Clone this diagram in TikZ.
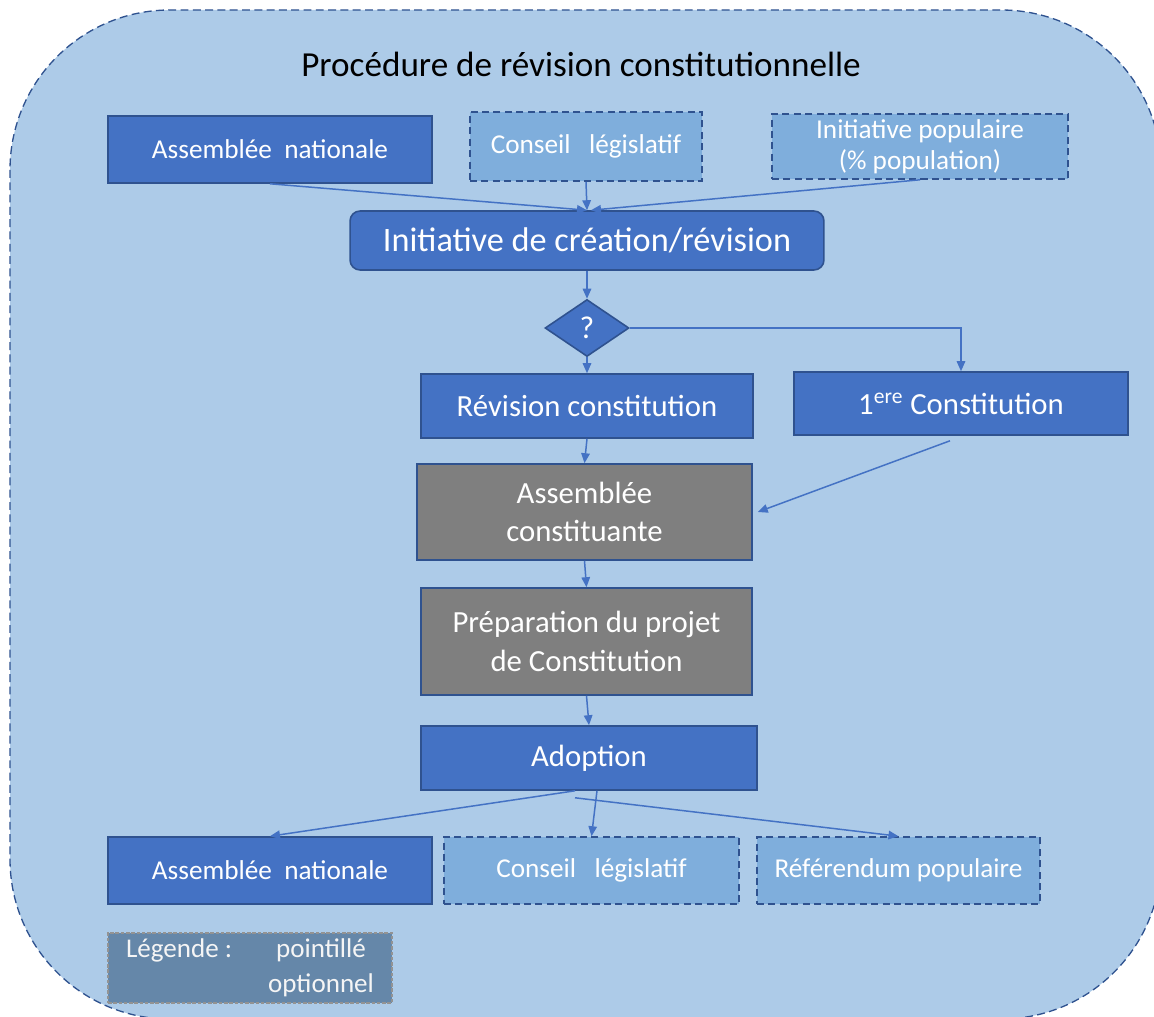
\documentclass[tikz,border=0pt]{standalone}
\usepackage{fontspec}
\setmainfont{Carlito}
\usetikzlibrary{shapes.geometric, arrows.meta}
\definecolor{fondbleu}{HTML}{ADCBE8}
\definecolor{boitebleu}{HTML}{4472C4}
\definecolor{boiteclair}{HTML}{7FAEDC}
\definecolor{bordbleu}{HTML}{2F528F}
\definecolor{boitegris}{HTML}{7F7F7F}
\definecolor{legendefond}{HTML}{6587A9}
\tikzset{>={Triangle[length=0.2cm,width=0.17cm]}}

\begin{document}
\begin{tikzpicture}[
  x=0.02cm, y=-0.02cm,
  plein/.style={rectangle, draw=bordbleu, fill=boitebleu, line width=0.9pt, text=white, align=center, inner sep=2pt, font=\fontsize{15.5}{19}\selectfont},
  option/.style={plein, fill=boiteclair, dash pattern=on 4pt off 2.5pt},
  grand/.style={font=\fontsize{17.5}{22}\selectfont},
  gris/.style={plein, grand, fill=boitegris},
  fleche/.style={->, draw=boitebleu, line width=0.85pt},
]
  % Cadre
  \useasboundingbox (0,0) rectangle (1154,1017);
  \fill[white] (0,0) rectangle (1154,1017);
  \draw[fill=fondbleu, draw=bordbleu, line width=0.75pt, dash pattern=on 4.5pt off 2.5pt, rounded corners=3.2cm]
    (10,10) rectangle (1161,1019);
  \node[font=\fontsize{20}{24}\selectfont] (titre) at (581,64) {Procédure de révision constitutionnelle};

  % Initiative
  \node[plein, minimum width=6.48cm, minimum height=1.34cm] (ANh) at (270,149.5) {Assemblée\ \ nationale};
  \node[option, minimum width=4.64cm, minimum height=1.38cm] (CLh) at (586,146.5) {Conseil\ \ \ législatif};
  \node[option, minimum width=5.92cm, minimum height=1.30cm, font=\fontsize{15.5}{17.5}\selectfont] (IP) at (920,146.5) {Initiative populaire\\(\% population)};
  \node[plein, rounded corners=0.2cm, minimum width=9.48cm, minimum height=1.18cm, font=\fontsize{19.5}{23}\selectfont] (init) at (587,240.5) {Initiative de création/révision};
  \node[diamond, draw=bordbleu, fill=boitebleu, line width=0.9pt, text=white, inner sep=0pt, minimum width=1.68cm, minimum height=1.14cm, font=\fontsize{18}{21}\selectfont] (Q) at (587,328) {?};

  % Branches
  \node[plein, grand, minimum width=6.64cm, minimum height=1.28cm] (rev) at (587,406) {Révision constitution};
  \node[plein, grand, minimum width=6.68cm, minimum height=1.26cm] (prem) at (961,403.5) {1\textsuperscript{ere} Constitution};
  \node[gris, minimum width=6.70cm, minimum height=1.92cm] (const) at (584.5,512) {Assemblée\\constituante};
  \node[gris, minimum width=6.62cm, minimum height=2.14cm] (prep) at (586.5,641.5) {Préparation du projet\\de Constitution};
  \node[plein, grand, minimum width=6.72cm, minimum height=1.28cm] (adop) at (589,758) {Adoption};

  % Adoption par
  \node[plein, minimum width=6.48cm, minimum height=1.34cm] (ANb) at (270,870.5) {Assemblée\ \ nationale};
  \node[option, minimum width=5.90cm, minimum height=1.34cm] (CLb) at (591.5,870.5) {Conseil\ \ \ législatif};
  \node[option, minimum width=5.66cm, minimum height=1.34cm] (ref) at (898.5,870.5) {Référendum populaire};

  % Legende
  \node[rectangle, fill=legendefond, draw=gray!85, line width=0.75pt, dash pattern=on 2pt off 1pt, text=white!92!gray, minimum width=5.68cm, minimum height=1.32cm, inner sep=0pt, font=\fontsize{15.4}{20}\selectfont] (leg) at (250,968)
    {\begin{tabular}{@{}l@{\hspace{0.72cm}}c@{}}Légende : & pointillé\\ & optionnel\end{tabular}};

  % Fleches
  \draw[fleche] (ANh.south) -- (init.north);
  \draw[fleche] (CLh.south) -- (init.north);
  \draw[fleche] (IP.south) -- ([xshift=0.08cm]init.north);
  \draw[fleche] (init.south) -- (Q.north);
  \draw[fleche] (Q.south) -- (rev.north);
  \draw[fleche] (Q.east) -| (prem.north);
  \draw[fleche] (rev.south) -- (const.north);
  \draw[fleche] ([xshift=-0.22cm, yshift=-0.1cm]prem.south) -- ([xshift=0.1cm]const.east);
  \draw[fleche] (const.south) -- (prep.north);
  \draw[fleche] (prep.south) -- (adop.north);
  \draw[fleche] ([xshift=-0.28cm]adop.south) -- (ANb.north);
  \draw[fleche] ([xshift=0.16cm]adop.south) -- (CLb.north);
  \draw[fleche] ([xshift=-0.28cm, yshift=-0.14cm]adop.south) -- (ref.north);
\end{tikzpicture}
\end{document}
